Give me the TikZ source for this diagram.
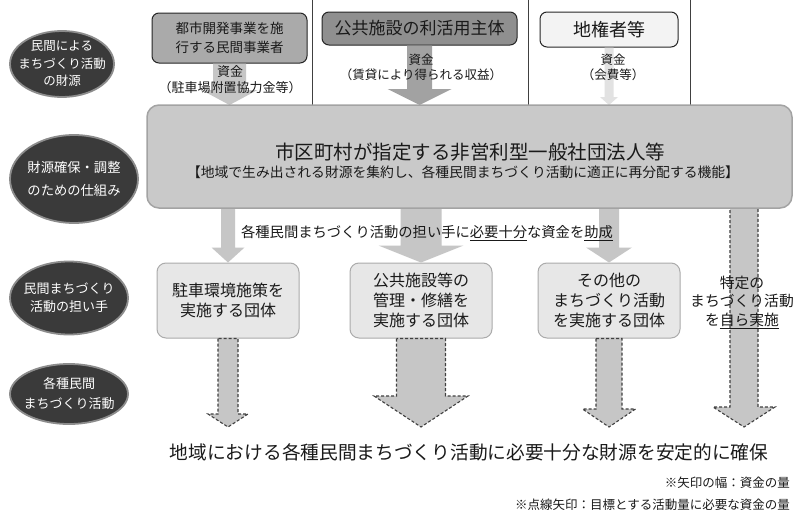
\documentclass[tikz,border=0pt]{standalone}
\usepackage{fontspec}
\setmainfont{Noto Sans CJK JP}
\usetikzlibrary{shapes.geometric,calc}
\definecolor{ellfill}{HTML}{3A3A3A}
\definecolor{ellline}{HTML}{8C8C8C}
\definecolor{boxA}{HTML}{AAAAAA}
\definecolor{boxB}{HTML}{8F8F8F}
\definecolor{boxC}{HTML}{F3F3F3}
\definecolor{bigfill}{HTML}{C9C9C9}
\definecolor{bigline}{HTML}{A3A3A3}
\definecolor{orgfill}{HTML}{E7E7E7}
\definecolor{orgline}{HTML}{ABABAB}
\definecolor{arrA}{HTML}{C6C6C6}
\definecolor{arrB}{HTML}{A2A2A2}
\definecolor{arrC}{HTML}{E2E2E2}
\definecolor{txt}{HTML}{1A1A1A}
\newcommand{\fs}[2]{\fontsize{#1}{#2}\selectfont}
% block arrow: #1 style, #2 start, #3 tip, #4 shaft half width, #5 head half width, #6 head length
\newcommand{\barr}[6]{%
  \path[#1] let \p1=(#2), \p2=(#3) in
    (\x1-#4,\y1) -- (\x1-#4,\y2+#6) -- (\x1-#5,\y2+#6) -- (\x1,\y2)
    -- (\x1+#5,\y2+#6) -- (\x1+#4,\y2+#6) -- (\x1+#4,\y1) -- cycle;}
\begin{document}
\begin{tikzpicture}[x=1pt,y=-1pt,
  ellnode/.style={ellipse, fill=ellfill, draw=ellline, line width=1.8pt, inner sep=0pt},
  elltext/.style={text=white, align=center, inner sep=0pt},
  topbox/.style={rounded corners=7pt, draw=black!85, line width=1pt, align=center, inner sep=0pt, text=txt},
  orgbox/.style={rounded corners=9pt, fill=orgfill, draw=orgline, line width=1pt, align=center,
     inner sep=0pt, minimum width=142pt, minimum height=75pt, text=txt, font=\fs{16}{20}},
  lbl/.style={align=center, inner sep=0pt, text=txt},
  dasharr/.style={fill=arrA, draw=black!75, dashed, dash pattern=on 3pt off 2pt, line width=1.1pt},
  sepline/.style={draw=black!75, line width=0.8pt}]
\useasboundingbox (0,0) rectangle (800,514);
\fill[white] (0,0) rectangle (800,514);

% left column ellipses
\node[ellnode, minimum width=104pt, minimum height=66pt] (e1) at (62,64) {};
\node[elltext, font=\fs{12.5}{17.5}] (e1t) at (e1) {民間による\\まちづくり活動\\の財源};
\node[ellnode, minimum width=128pt, minimum height=88pt] (e2) at (74,179) {};
\node[elltext, font=\fs{13.3}{23}] (e2t) at (e2) {財源確保・調整\\のための仕組み};
\node[ellnode, minimum width=118pt, minimum height=73pt] (e3) at (69,298) {};
\node[elltext, font=\fs{13}{18}] (e3t) at (e3) {民間まちづくり\\活動の担い手};
\node[ellnode, minimum width=118pt, minimum height=60pt] (e4) at (69,394) {};
\node[elltext, font=\fs{13}{20}] (e4t) at (e4) {各種民間\\まちづくり活動};

% separators
\draw[sepline] (312,0) -- (312,105);
\draw[sepline] (528,0) -- (528,105);
\draw[sepline] (690,0) -- (690,105);

% top boxes
\node[topbox, fill=boxA, minimum width=155pt, minimum height=50pt, font=\fs{13.5}{19}] (b1) at (229.5,38) {都市開発事業を施\\行する民間事業者};
\node[topbox, fill=boxB, minimum width=195pt, minimum height=33pt, font=\fs{17}{20}] (b2) at (419.5,28.5) {公共施設の利活用主体};
\node[topbox, fill=boxC, minimum width=138pt, minimum height=35pt, font=\fs{18}{20}] (b3) at (609,29.5) {地権者等};

\coordinate (bigtop) at (470,105);
\coordinate (dtop) at (744,200);
\coordinate (dtip) at (744,427);

% dashed arrow that starts under the big box
\barr{dasharr}{dtop}{dtip}{14pt}{31pt}{20pt}

% top arrows
\barr{fill=arrA}{b1.south}{b1.south |- bigtop}{16.5pt}{28pt}{15pt}
\barr{fill=arrB}{b2.south}{b2.south |- bigtop}{12.5pt}{32pt}{16pt}
\barr{fill=arrC}{b3.south}{b3.south |- bigtop}{4.5pt}{9pt}{8pt}

% org boxes (needed for arrows)
\node[orgbox] (o1) at (228,300.5) {駐車環境施策を\\実施する団体};
\node[orgbox] (o2) at (421,300.5) {公共施設等の\\管理・修繕を\\実施する団体};
\node[orgbox] (o3) at (609,300.5) {その他の\\まちづくり活動\\を実施する団体};

% arrows from big box to org boxes
\barr{fill=arrA}{o1.north |- bigtop}{o1.north}{7pt}{16.5pt}{15pt}
\barr{fill=arrA}{o2.north |- bigtop}{o2.north}{20.5pt}{42.5pt}{17pt}
\barr{fill=arrA}{o3.north |- bigtop}{o3.north}{10pt}{23pt}{15pt}

% big box
\node[rounded corners=12pt, fill=bigfill, draw=bigline, line width=1.5pt, minimum width=645pt, minimum height=103pt, inner sep=0pt] (big) at (469.5,156.5) {};
\node[lbl, font=\fs{19.5}{22}] (bigt) at (470,152) {市区町村が指定する非営利型一般社団法人等};
\node[lbl, font=\fs{13.8}{16}] (bigs) at (463,172) {【地域で生み出される財源を集約し、各種民間まちづくり活動に適正に再分配する機能】};

% fund labels
\node[lbl, font=\fs{13}{16}] (f1) at (230,80) {資金\\（駐車場附置協力金等）};
\node[lbl, font=\fs{12.5}{15}] (f2) at (421,67.5) {資金\\（賃貸により得られる収益）};
\node[lbl, font=\fs{12.5}{15}] (f3) at (613,67.5) {資金\\（会費等）};

% grant label
\node[lbl, font=\fs{14.3}{16}] (grant) at (427,233) {各種民間まちづくり活動の担い手に\underline{必要十分}な資金を\underline{助成}};

% dashed arrows from org boxes
\barr{dasharr}{o1.south}{o1.south |- dtip}{10pt}{20pt}{13pt}
\barr{dasharr}{o2.south}{o2.south |- dtip}{24.5pt}{47pt}{31pt}
\barr{dasharr}{o3.south}{o3.south |- dtip}{13pt}{26.5pt}{18pt}

% text on the self-implemented arrow
\node[lbl, font=\fs{14.8}{18.5}] (dt) at (742,302) {特定の\\まちづくり活動\\を\underline{自ら実施}};

% goal and notes
\node[lbl, font=\fs{18.7}{20}] (goal) at (469,452) {地域における各種民間まちづくり活動に必要十分な財源を安定的に確保};
\node[lbl, anchor=east, font=\fs{12.5}{14}] (n1) at (790,483) {※矢印の幅：資金の量};
\node[lbl, anchor=east, font=\fs{12.5}{14}] (n2) at (790,505) {※点線矢印：目標とする活動量に必要な資金の量};
\end{tikzpicture}
\end{document}
